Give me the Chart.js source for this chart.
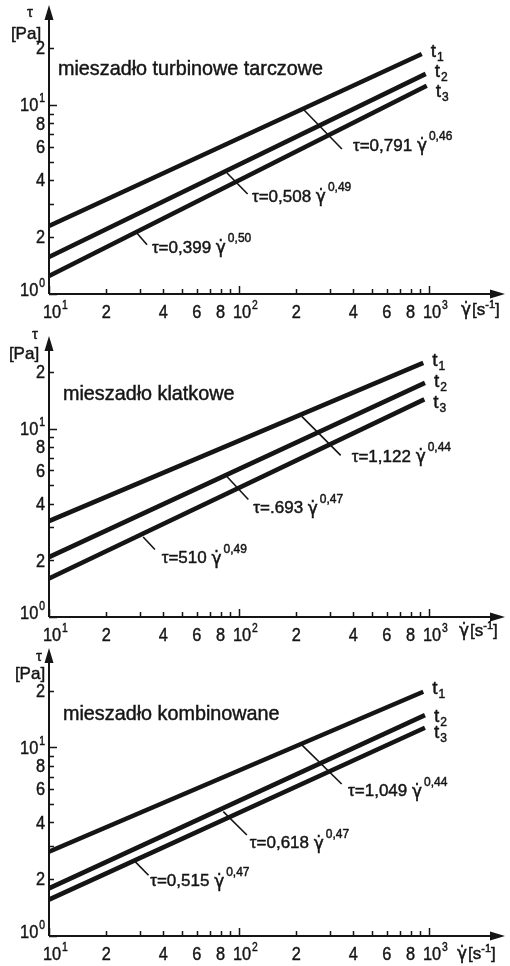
<!DOCTYPE html>
<html lang="pl"><head><meta charset="utf-8"><title>mieszadła</title>
<script src="https://cdn.jsdelivr.net/npm/chart.js@4.4.1/dist/chart.umd.min.js"></script>
<style>
html,body{margin:0;padding:0;background:#fff;overflow:hidden}
#wrap{position:relative;width:510px;height:966px;background:#fff}
canvas{position:absolute;left:0;display:block}
</style></head><body>
<div id="wrap">
<canvas id="c1" width="510" height="322" style="top:0"></canvas>
<canvas id="c2" width="510" height="322" style="top:322px"></canvas>
<canvas id="c3" width="510" height="322" style="top:644px"></canvas>
</div>
<script>
// ---------- data ----------
const seriesNames = ['t1', 't2', 't3'];
const panelTitles = ['mieszadło turbinowe tarczowe', 'mieszadło klatkowe', 'mieszadło kombinowane'];

const xTickValues = [10, 20, 30, 40, 50, 60, 70, 80, 90, 100, 200, 300, 400, 500, 600, 700, 800, 900, 1000];
const xLabelValues = [10, 20, 40, 60, 80, 100, 200, 400, 600, 800, 1000];
const xLabelTexts = ['10^1', '2', '4', '6', '8', '10^2', '2', '4', '6', '8', '10^3'];
const yTickValues = [1, 2, 3, 4, 5, 6, 7, 8, 9, 10, 20];
const yLabelValues = [1, 2, 4, 6, 8, 10, 20];
const yLabelTexts = ['10^0', '2', '4', '6', '8', '10^1', '2'];

// panel 1: mieszadło turbinowe tarczowe (shear rate start/end, tau start/end)
const turbineRate = [[10, 916], [10, 961], [10, 973]];
const turbineTau = [[2.29, 18.6], [1.57, 14.6], [1.245, 12.65]];
const turbineCoef = ['0,791', '0,508', '0,399'];
const turbineExp = ['0,46', '0,49', '0,50'];

// panel 2: mieszadło klatkowe
const cageRate = [[10, 933], [10, 952], [10, 945]];
const cageTau = [[3.23, 22.3], [2.08, 17.5], [1.60, 14.3]];
const cageCoef = ['1,122', '.693', '510'];
const cageExp = ['0,44', '0,47', '0,49'];

// panel 3: mieszadło kombinowane
const comboRate = [[10, 933], [10, 952], [10, 952]];
const comboTau = [[2.80, 19.7], [1.79, 14.8], [1.56, 12.7]];
const comboCoef = ['1,049', '0,618', '0,515'];
const comboExp = ['0,44', '0,47', '0,47'];

// ---------- layout / style ----------
const INK = '#151515';
const FONT = '"Liberation Sans", Arial, sans-serif';
const GFONT = '"DejaVu Sans", sans-serif';

const panels = [
  { id: 'c1', title: panelTitles[0], rate: turbineRate, tau: turbineTau, coef: turbineCoef, exp: turbineExp,
    top: 5, bottom: 294, yMax: 33.8, xMax: 2512,
    titlePos: [58, 70], tauPos: [30, 13], paPos: [26, 34], ratePos: [461, 310],
    leaders: [[220, 9.41, 348, 5.85], [86.5, 4.37, 111, 3.38], [29, 2.10, 32.8, 1.82]],
    eqPos: [[398, 6.07], [117, 3.26], [34.8, 1.75]],
    tOff: [-2, -2, 6] },
  { id: 'c2', title: panelTitles[1], rate: cageRate, tau: cageTau, coef: cageCoef, exp: cageExp,
    top: 14, bottom: 295, yMax: 31.0, xMax: 2512,
    titlePos: [63, 73], tauPos: [35, 13], paPos: [24, 32], ratePos: [459, 309],
    leaders: [[214, 11.6, 343, 7.21], [86.1, 5.58, 112, 4.20], [31.3, 2.66, 36.1, 2.28]],
    eqPos: [[392, 7.07], [119, 3.76], [39.2, 2.04]],
    tOff: [-2, -1, 3] },
  { id: 'c3', title: panelTitles[2], rate: comboRate, tau: comboTau, coef: comboCoef, exp: comboExp,
    top: 4, bottom: 292, yMax: 33.6, xMax: 2512,
    titlePos: [63, 71], tauPos: [39, 13], paPos: [30, 30], ratePos: [457, 310],
    leaders: [[214, 10.3, 347, 6.39], [82.7, 4.56, 110, 3.43], [28.4, 2.48, 33.4, 2.10]],
    eqPos: [[375, 5.82], [114, 3.10], [34.1, 1.94]],
    tOff: [-3, 2, 5] }
];

function isDecade(v) { const l = Math.log10(v); return Math.abs(l - Math.round(l)) < 1e-9; }

// filled + lightly stroked text (heavier, like the printed original)
function txt(ctx, s, x, y, font) {
  ctx.font = font;
  ctx.fillText(s, x, y);
  ctx.lineWidth = 0.45;
  ctx.strokeText(s, x, y);
  return ctx.measureText(s).width;
}

// tick label like "10^2" -> base + raised exponent ; plain digits otherwise
function tickLabel(ctx, label, x, y, align) {
  const SX = 0.86;
  const parts = label.split('^');
  ctx.save();
  ctx.textBaseline = 'middle';
  ctx.textAlign = 'left';
  ctx.font = '19px ' + FONT;
  const wb = ctx.measureText(parts[0]).width * SX;
  ctx.font = '12px ' + FONT;
  const we = parts[1] ? ctx.measureText(parts[1]).width * SX + 1 : 0;
  let x0;
  if (align === 'center') x0 = x - wb / 2 + (parts[1] ? 3 : 0);
  else x0 = x - wb - we;                 // right aligned
  ctx.translate(x0, y);
  ctx.scale(SX, 1);
  txt(ctx, parts[0], 0, 0, '19px ' + FONT);
  if (parts[1]) txt(ctx, parts[1], (wb + 1) / SX, -7, '12px ' + FONT);
  ctx.restore();
}

function drawEq(ctx, px, py, coef, exp) {
  ctx.textAlign = 'left';
  ctx.textBaseline = 'middle';
  let x = px;
  x += txt(ctx, 'τ=' + coef + ' ', x, py, '17px ' + FONT);
  x += txt(ctx, 'γ̇', x, py + 1, '17px ' + GFONT);
  txt(ctx, exp, x + 2, py - 9, '12px ' + FONT);
}

function makeDecor(p) {
  return {
    id: 'decor_' + p.id,
    afterDraw(chart) {
      const { ctx, chartArea: a, scales: { x, y } } = chart;
      ctx.save();
      ctx.strokeStyle = INK;
      ctx.fillStyle = INK;
      ctx.lineCap = 'butt';
      // axes
      ctx.lineWidth = 2;
      ctx.beginPath();
      ctx.moveTo(a.left, a.bottom); ctx.lineTo(a.right - 8, a.bottom);
      ctx.moveTo(a.left, a.bottom); ctx.lineTo(a.left, a.top + 8);
      ctx.stroke();
      ctx.beginPath();
      ctx.moveTo(a.right, a.bottom); ctx.lineTo(a.right - 15, a.bottom - 4.5); ctx.lineTo(a.right - 15, a.bottom + 4.5);
      ctx.closePath(); ctx.fill();
      ctx.beginPath();
      ctx.moveTo(a.left, a.top); ctx.lineTo(a.left - 4.5, a.top + 15); ctx.lineTo(a.left + 4.5, a.top + 15);
      ctx.closePath(); ctx.fill();
      // inward tick marks
      ctx.lineWidth = 1.5;
      ctx.beginPath();
      xTickValues.forEach(v => {
        const px = Math.round(x.getPixelForValue(v)) + 0.5;
        const len = isDecade(v) ? 8 : 5;
        ctx.moveTo(px, a.bottom); ctx.lineTo(px, a.bottom - len);
      });
      yTickValues.forEach(v => {
        const py = Math.round(y.getPixelForValue(v)) + 0.5;
        const len = isDecade(v) ? 8 : 5;
        ctx.moveTo(a.left, py); ctx.lineTo(a.left + len, py);
      });
      ctx.stroke();
      // tick labels (positions from the library's scales)
      xLabelValues.forEach((v, k) => tickLabel(ctx, xLabelTexts[k], x.getPixelForValue(v), a.bottom + 19, 'center'));
      yLabelValues.forEach((v, k) => tickLabel(ctx, yLabelTexts[k], a.left - 4, y.getPixelForValue(v) + (k === 0 ? -3 : 1), 'right'));
      // axis titles
      ctx.textBaseline = 'middle';
      ctx.textAlign = 'center';
      txt(ctx, 'τ', p.tauPos[0], p.tauPos[1], '15px ' + FONT);
      txt(ctx, '[Pa]', p.paPos[0], p.paPos[1], '17px ' + FONT);
      ctx.textAlign = 'left';
      let rx = p.ratePos[0];
      rx += txt(ctx, 'γ̇', rx, p.ratePos[1] + 1, '17px ' + GFONT);
      rx += txt(ctx, '[s', rx + 1, p.ratePos[1], '17px ' + FONT) + 1;
      rx += txt(ctx, '-1', rx, p.ratePos[1] - 5, '11px ' + FONT);
      txt(ctx, ']', rx, p.ratePos[1], '17px ' + FONT);
      // panel title
      txt(ctx, p.title, p.titlePos[0], p.titlePos[1], '19.8px ' + FONT);
      // leaders + equations
      ctx.lineWidth = 1.6;
      p.leaders.forEach(L => {
        ctx.beginPath();
        ctx.moveTo(x.getPixelForValue(L[0]), y.getPixelForValue(L[1]));
        ctx.lineTo(x.getPixelForValue(L[2]), y.getPixelForValue(L[3]));
        ctx.stroke();
      });
      p.eqPos.forEach((E, i) => {
        drawEq(ctx, x.getPixelForValue(E[0]), y.getPixelForValue(E[1]), p.coef[i], p.exp[i]);
      });
      // series names t1..t3 at line ends
      seriesNames.forEach((name, i) => {
        const pts = chart.getDatasetMeta(i).data;
        const end = pts[pts.length - 1];
        const tx = end.x + 9, ty = end.y + p.tOff[i];
        ctx.textAlign = 'left';
        const w = txt(ctx, name.charAt(0), tx, ty, '19px ' + FONT);
        txt(ctx, name.slice(1), tx + w + 1, ty + 6, '12px ' + FONT);
      });
      ctx.restore();
    }
  };
}

function makePanel(p) {
  const datasets = p.rate.map((xs, i) => ({
    label: seriesNames[i],
    data: xs.map((xv, j) => ({ x: xv, y: p.tau[i][j] })),
    borderColor: INK,
    borderWidth: 4.6,
    borderCapStyle: 'butt',
    pointRadius: 0,
    fill: false,
    tension: 0
  }));
  new Chart(document.getElementById(p.id), {
    type: 'line',
    data: { datasets },
    options: {
      responsive: false,
      animation: false,
      events: [],
      layout: { padding: { top: p.top, left: 0, right: 5, bottom: 0 } },
      plugins: { legend: { display: false }, tooltip: { enabled: false }, title: { display: false } },
      scales: {
        x: {
          type: 'logarithmic', min: 10, max: p.xMax, bounds: 'data',
          afterBuildTicks: s => { s.ticks = xTickValues.map(v => ({ value: v })); },
          afterFit: s => { s.height = 322 - p.bottom; s.paddingLeft = 0; s.paddingRight = 0; },
          border: { display: false },
          grid: { display: false, drawTicks: false },
          ticks: { display: false, autoSkip: false, maxRotation: 0, minRotation: 0 }
        },
        y: {
          type: 'logarithmic', min: 1, max: p.yMax, bounds: 'data',
          afterBuildTicks: s => { s.ticks = yTickValues.map(v => ({ value: v })); },
          afterFit: s => { s.width = 49; s.paddingTop = 0; s.paddingBottom = 0; },
          border: { display: false },
          grid: { display: false, drawTicks: false },
          ticks: { display: false, autoSkip: false }
        }
      }
    },
    plugins: [makeDecor(p)]
  });
}

panels.forEach(makePanel);
</script>
</body></html>
